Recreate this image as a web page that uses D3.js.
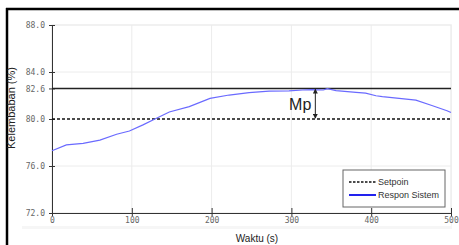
<!DOCTYPE html>
<html><head><meta charset="utf-8">
<script src="https://cdn.jsdelivr.net/npm/d3@7"></script>
<style>body{margin:0;background:#fff;}svg{display:block;}</style>
</head><body>
<svg id="c" width="459" height="245"></svg>
<script>
const timeS = [0, 18, 39, 60, 81, 97, 114, 129, 147, 172, 198, 222, 247, 272, 297, 314, 326, 340, 345, 356, 381, 393, 406, 414, 435, 456, 476, 495, 500];
const respon = [77.3, 77.8, 77.93, 78.2, 78.7, 78.98, 79.5, 80.0, 80.6, 81.05, 81.75, 82.04, 82.24, 82.38, 82.4, 82.47, 82.5, 82.47, 82.58, 82.42, 82.26, 82.2, 81.98, 81.9, 81.76, 81.6, 81.15, 80.7, 80.55];
const setpoin = 80.0;
const mpLevel = 82.6;
const yTicks = [72.0, 76.0, 80.0, 82.6, 84.0, 88.0];
const yGrid = [72, 76, 84, 88];
const xTicks = [0, 100, 200, 300, 400, 500];
const legendLabels = ["Setpoin", "Respon Sistem"];

const svg = d3.select("#c");
const x = d3.scaleLinear().domain([0, 500]).range([52, 451]);
const y = d3.scaleLinear().domain([72, 88]).range([213, 25]);

// panel
svg.append("rect").attr("x", 22).attr("y", 24).attr("width", 430).attr("height", 205).attr("fill", "#f6f6f6");
svg.append("rect").attr("x", 22).attr("y", 24).attr("width", 429).attr("height", 202).attr("fill", "#fff");
svg.append("rect").attr("x", 52).attr("y", 25).attr("width", 399).attr("height", 188).attr("fill", "#fff").attr("stroke", "#eee");

// frame
svg.append("line").attr("x1", 7).attr("x2", 7).attr("y1", 8).attr("y2", 245).attr("stroke", "#000").attr("stroke-width", 2.5);
svg.append("line").attr("x1", 6).attr("x2", 459).attr("y1", 9).attr("y2", 9).attr("stroke", "#000").attr("stroke-width", 2.5);

// grid
svg.append("g").selectAll("line").data(xTicks).join("line")
  .attr("x1", d => x(d)).attr("x2", d => x(d)).attr("y1", 25).attr("y2", 213)
  .attr("stroke", "#ececec");
svg.append("g").selectAll("line").data(yGrid).join("line")
  .attr("x1", 52).attr("x2", 451).attr("y1", d => y(d)).attr("y2", d => y(d))
  .attr("stroke", "#ececec");

// axes
const yAxis = svg.append("g").attr("transform", "translate(52,0)")
  .call(d3.axisLeft(y).tickValues(yTicks).tickFormat(d3.format(".1f")).tickSize(3).tickPadding(4));
const xAxis = svg.append("g").attr("transform", "translate(0,213)")
  .call(d3.axisBottom(x).tickValues(xTicks).tickFormat(d3.format("d")).tickSize(3).tickPadding(1));
[yAxis, xAxis].forEach(a => {
  a.select(".domain").attr("stroke", "#333");
  a.selectAll(".tick line").attr("stroke", "#333");
  a.selectAll("text").attr("fill", "#666").style("font-family", "DejaVu Sans Mono").style("font-size", "8px");
});
yAxis.selectAll(".tick line").attr("x2", 3).attr("x1", -3);
xAxis.selectAll(".tick line").attr("y1", -5).attr("y2", 3);

// reference lines
svg.append("line").attr("x1", x(0)).attr("x2", x(500)).attr("y1", y(mpLevel)).attr("y2", y(mpLevel))
  .attr("stroke", "#222").attr("stroke-width", 1.5);
svg.append("line").attr("x1", x(0)).attr("x2", x(500)).attr("y1", y(setpoin)).attr("y2", y(setpoin))
  .attr("stroke", "#111").attr("stroke-width", 1.5).attr("stroke-dasharray", "3,2");

// response
svg.append("path").datum(timeS.map((t, i) => [t, respon[i]]))
  .attr("fill", "none").attr("stroke", "#6a6aff").attr("stroke-width", 1.2)
  .attr("d", d3.line().x(d => x(d[0])).y(d => y(d[1])));

// Mp annotation
svg.append("defs").html('<marker id="ah" viewBox="0 0 6 6" refX="5" refY="3" markerWidth="5" markerHeight="5" orient="auto-start-reverse"><path d="M0,0L6,3L0,6z" fill="#222"/></marker>');
svg.append("line").attr("x1", x(330)).attr("x2", x(330)).attr("y1", y(mpLevel) + 1).attr("y2", y(setpoin) - 1)
  .attr("stroke", "#222").attr("stroke-width", 1)
  .attr("marker-start", "url(#ah)").attr("marker-end", "url(#ah)");
svg.append("text").attr("x", x(330) - 4).attr("y", 110).attr("text-anchor", "end")
  .style("font-family", "Liberation Sans, Arial").style("font-size", "16px").attr("fill", "#222").text("Mp");

// axis titles
svg.append("text").attr("x", 257).attr("y", 242).attr("text-anchor", "middle")
  .style("font-family", "Liberation Sans, Arial").style("font-size", "10px").attr("fill", "#222").text("Waktu (s)");
svg.append("text").attr("transform", "translate(15,108) rotate(-90)").attr("text-anchor", "middle")
  .style("font-family", "Liberation Sans, Arial").style("font-size", "11px").attr("fill", "#222").text("Kelembaban (%)");

// legend
const lg = svg.append("g").attr("transform", "translate(343,170)");
lg.append("rect").attr("width", 102).attr("height", 37).attr("fill", "#fff").attr("stroke", "#666").attr("stroke-width", 1);
lg.selectAll("line").data(legendLabels).join("line")
  .attr("x1", 6).attr("x2", 33).attr("y1", (d, i) => 12 + i * 13).attr("y2", (d, i) => 12 + i * 13)
  .attr("stroke", (d, i) => i === 0 ? "#111" : "#2222ee")
  .attr("stroke-width", (d, i) => i === 0 ? 1.5 : 2)
  .attr("stroke-dasharray", (d, i) => i === 0 ? "2.5,1.5" : null);
lg.selectAll("text").data(legendLabels).join("text")
  .attr("x", 35).attr("y", (d, i) => 15 + i * 13)
  .style("font-family", "Liberation Sans, Arial").style("font-size", "9px").attr("fill", "#333").text(d => d);
</script>
</body></html>
